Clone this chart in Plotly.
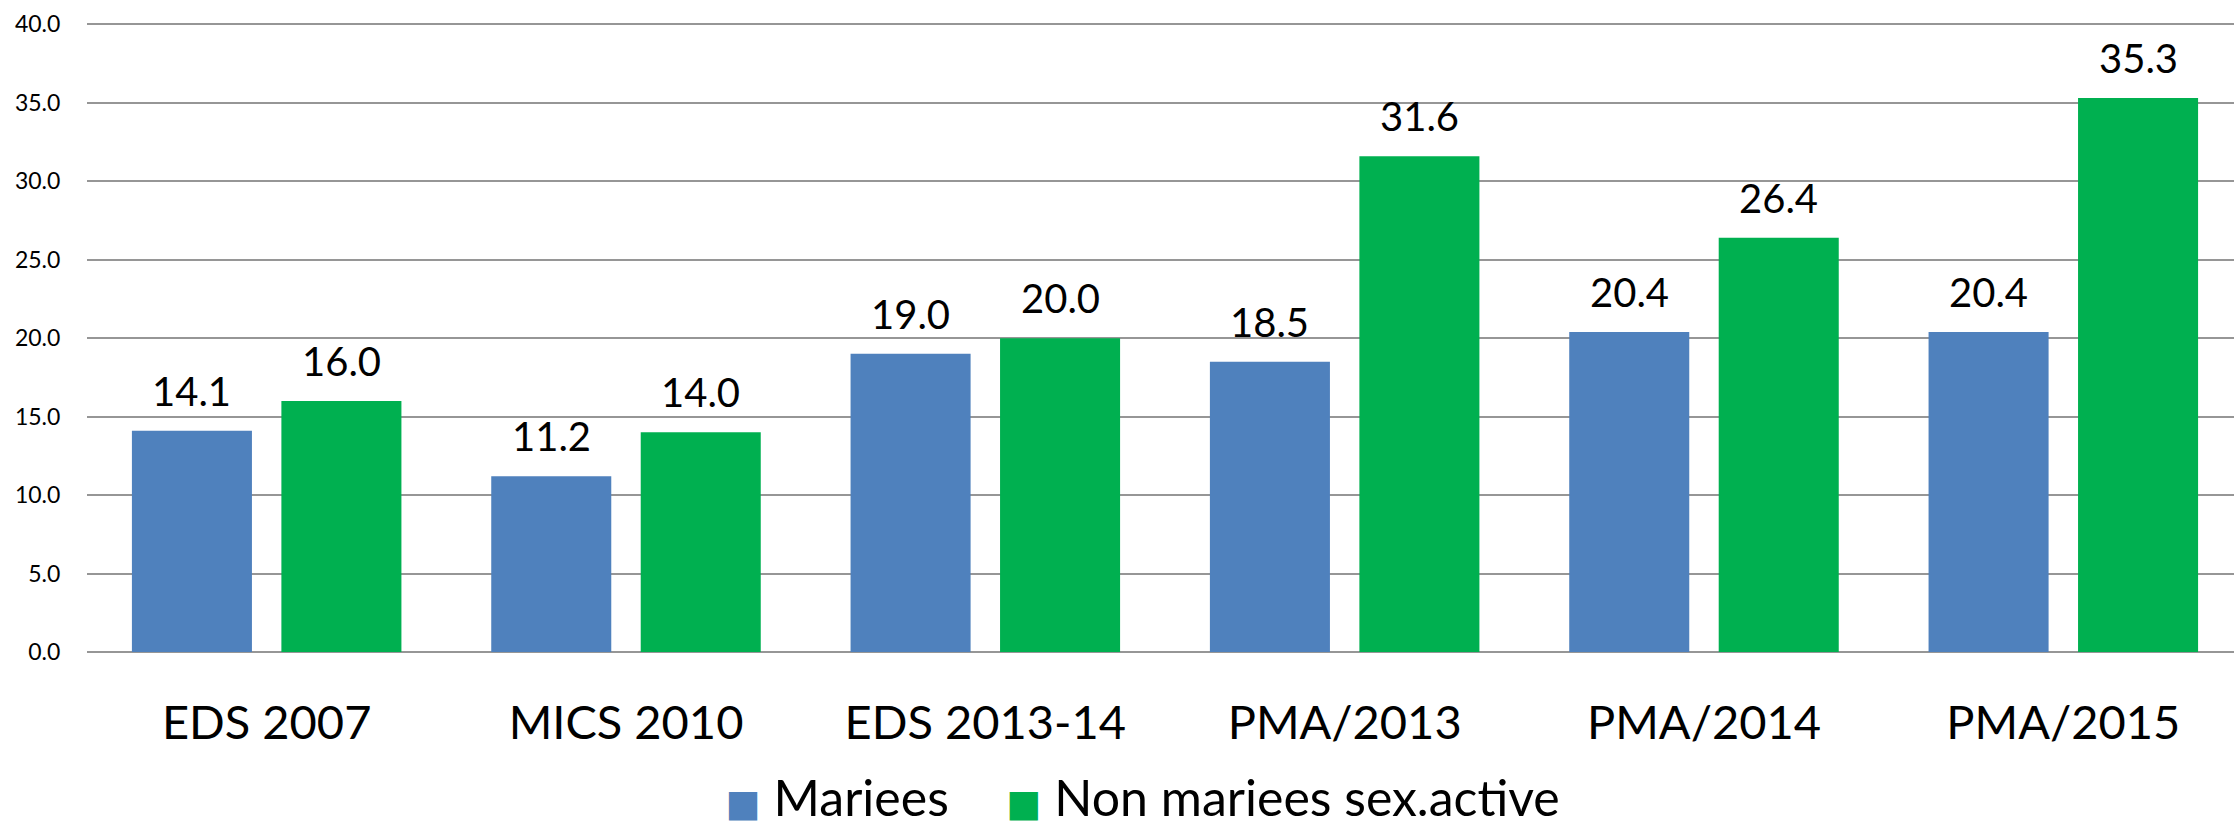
import plotly.graph_objects as go

categories = ["EDS 2007", "MICS 2010", "EDS 2013-14", "PMA/2013", "PMA/2014", "PMA/2015"]
mariees = [14.1, 11.2, 19.0, 18.5, 20.4, 20.4]
non_mariees = [16.0, 14.0, 20.0, 31.6, 26.4, 35.3]
series_names = ["Mariees", "Non mariees sex.active"]
colors = ["#4F81BD", "#00B050"]
y_ticks = [0, 5, 10, 15, 20, 25, 30, 35, 40]

FONT = "Lato, Carlito, Calibri, 'Open Sans', sans-serif"

fig = go.Figure()
for name, vals, col in zip(series_names, [mariees, non_mariees], colors):
    fig.add_trace(go.Bar(x=categories, y=vals, name=name, marker=dict(color=col, line=dict(width=0)),
                         showlegend=False, hoverinfo="x+y"))

# legend entries with large square glyphs
legend_pad = ["&nbsp;", ""]
for name, col, pad in zip(series_names, colors, legend_pad):
    fig.add_trace(go.Scatter(
        x=[None], y=[None], mode="lines", line=dict(width=0, color="rgba(0,0,0,0)"),
        name=f"<span style='color:{col};font-family:DejaVu Sans;font-size:37px'>■</span> {name}{pad}",
        showlegend=True))

# data labels
shift = 74.7
for vals, dx in zip([mariees, non_mariees], [-shift, shift]):
    for c, v in zip(categories, vals):
        fig.add_annotation(x=c, y=v, xref="x", yref="y", text=f"{v:.1f}", showarrow=False,
                           xshift=dx, yshift=40, yanchor="middle", xanchor="center",
                           font=dict(family=FONT, size=40, color="#000000"))

fig.update_layout(
    width=2234, height=828,
    margin=dict(l=87, r=0, t=22, b=176, autoexpand=False),
    paper_bgcolor="white", plot_bgcolor="white",
    barmode="group", bargap=0.168, bargroupgap=0.197,
    font=dict(family=FONT, color="#000000"),
    legend=dict(orientation="h", xref="container", yref="container", x=0.307, y=0.0375,
                xanchor="left", yanchor="middle",
                font=dict(family=FONT, size=50, color="#000000"), bgcolor="rgba(0,0,0,0)"),
)
fig.update_xaxes(range=[-0.5, 5.475], showgrid=False, showline=False, zeroline=False,
                 ticks="outside", ticklen=30, tickcolor="rgba(0,0,0,0)",
                 tickfont=dict(family=FONT, size=47, color="#000000"))
fig.update_yaxes(range=[0, 40.15], tickvals=y_ticks, tickformat=".1f",
                 showgrid=True, gridcolor="#969696", gridwidth=2,
                 zeroline=True, zerolinecolor="#969696", zerolinewidth=2, showline=False,
                 ticks="outside", ticklen=21, tickcolor="rgba(0,0,0,0)",
                 tickfont=dict(family=FONT, size=23, color="#000000"))

fig.write_html("out.html", config={"displayModeBar": False},
               post_script="document.body.style.margin='0';document.body.style.padding='0';"
                           "document.body.style.overflow='hidden';")
